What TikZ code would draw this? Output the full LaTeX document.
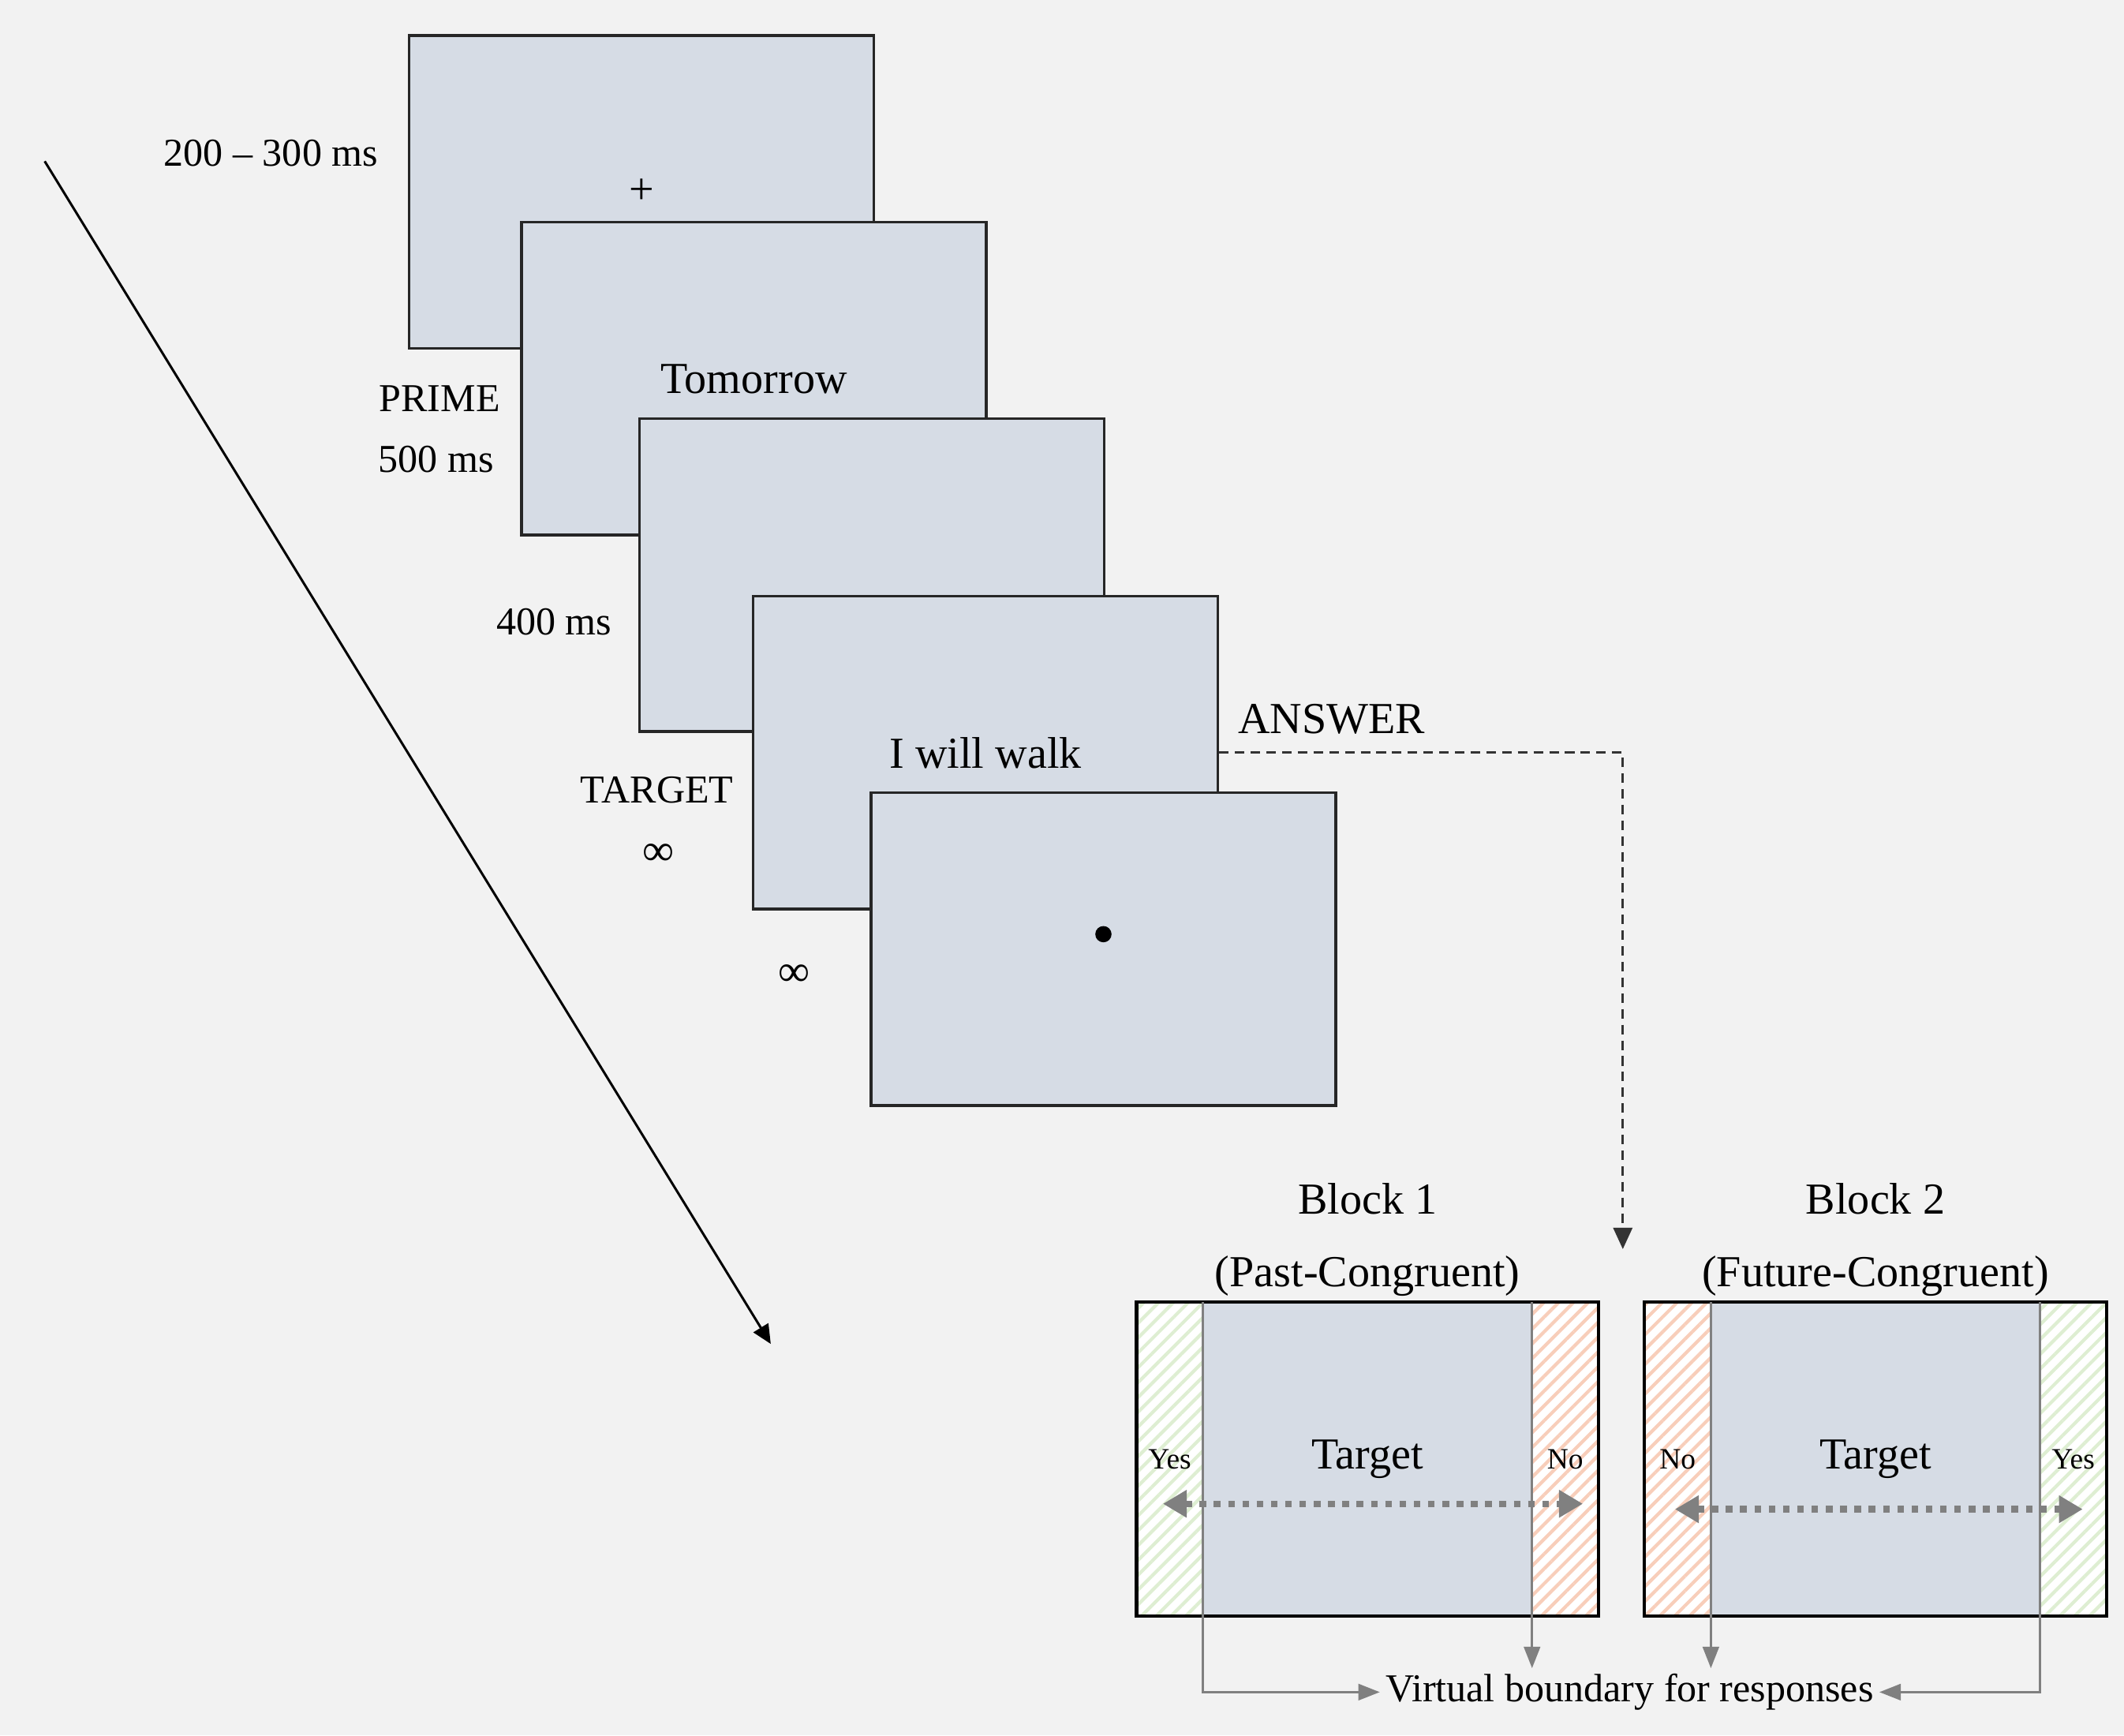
\documentclass[tikz,border=0pt]{standalone}
\usepackage{fontspec}
\setmainfont{Liberation Serif}
\usetikzlibrary{positioning,arrows.meta,patterns.meta,fit}

\definecolor{bgcol}{RGB}{242,242,242}
\definecolor{scrcol}{RGB}{214,220,229}
\definecolor{yescol}{RGB}{222,238,210}
\definecolor{nocol}{RGB}{248,206,186}
\definecolor{bndcol}{RGB}{128,128,128}

\newcommand\scrfnt{\fontsize{9.3}{11}\selectfont}
\newcommand\labfnt{\fontsize{8.3}{10}\selectfont}
\newcommand\sidefnt{\fontsize{6.2}{7.5}\selectfont}

\begin{document}
\begin{tikzpicture}
[screen/.style={shape=rectangle,draw=black!85,fill=scrcol,line width=0.6pt,
   minimum width=3.43cm,minimum height=2.31cm,inner sep=0pt,anchor=north west,font=\scrfnt},
 lab/.style={inner sep=1pt,font=\labfnt},
 big/.style={inner sep=1pt,font=\scrfnt},
 side/.style={shape=rectangle,minimum width=0.49cm,minimum height=2.32cm,inner sep=0pt,
   outer sep=0pt,font=\sidefnt,preaction={fill=white}},
 yesbox/.style={side,pattern={Lines[angle=45,distance=2.2pt,line width=0.7pt]},pattern color=yescol},
 nobox/.style={side,pattern={Lines[angle=45,distance=2.2pt,line width=0.7pt]},pattern color=nocol},
 midbox/.style={shape=rectangle,fill=scrcol,minimum width=2.43cm,minimum height=2.32cm,
   inner sep=0pt,outer sep=0pt,font=\scrfnt},
 panel/.style={draw=black,line width=0.7pt,inner sep=0pt,outer sep=0pt},
 bound/.style={draw=bndcol,line width=0.5pt,>={Triangle[length=4.5pt,width=3.4pt]}},
 choice/.style={bndcol,line width=1.4pt,dash pattern=on 1.4pt off 1.6pt,
   {Triangle[length=5pt,width=5.5pt]}-{Triangle[length=5pt,width=5.5pt]}},
 >={Triangle[length=4pt,width=3.6pt]}]
\useasboundingbox (0,0) rectangle (15.68,-12.81);
\fill[bgcol] (0,0) rectangle (15.68,-12.81);

% time line
\coordinate (tstart) at (0.33,-1.19);
\coordinate (tend) at (5.69,-9.92);
\draw[->,line width=0.5pt] (tstart) -- (tend);

% trial screens
\node[screen] (fix) at (3.01,-0.25) {+};
\node[screen] (prime) at (3.84,-1.63) {Tomorrow};
\node[screen] (blank) at (4.71,-3.08) {};
\node[screen] (target) at (5.55,-4.39) {I will walk};
\node[screen] (resp) at (6.42,-5.84) {};
\fill ([yshift=1.1mm]resp.center) circle (0.6mm);

\node[lab] (isi) at (2.00,-1.13) {200 – 300 ms};
\node[lab] (primelab) at (3.245,-2.94) {PRIME};
\node[lab] (primedur) at (3.22,-3.39) {500 ms};
\node[lab] (blankdur) at (4.09,-4.59) {400 ms};
\node[lab] (targetlab) at (4.85,-5.83) {TARGET};
\node[big] (targetdur) at (4.86,-6.31) {∞};
\node[big] (respdur) at (5.86,-7.20) {∞};
\node[big] (answer) at (9.83,-5.31) {ANSWER};

\coordinate (blockin) at (11.98,-9.22);
\draw[->,black!80,line width=0.5pt,dash pattern=on 2pt off 1.3pt,
  >={Triangle[length=4.5pt,width=4pt]}] (target.east) -| (blockin);

% block 1
\node[yesbox,anchor=north west] (yes1) at (8.39,-9.61) {Yes};
\node[midbox,right=0pt of yes1] (mid1) {Target};
\node[nobox,right=0pt of mid1] (no1) {No};
\node[panel,fit=(yes1)(no1)] (block1) {};
\node[big,above=0cm of block1] (cond1) {(Past-Congruent)};
\node[big,above=0.22cm of cond1] (title1) {Block 1};

% block 2
\node[nobox,anchor=north west] (no2) at (12.14,-9.61) {No};
\node[midbox,right=0pt of no2] (mid2) {Target};
\node[yesbox,right=0pt of mid2] (yes2) {Yes};
\node[panel,fit=(no2)(yes2)] (block2) {};
\node[big,above=0cm of block2] (cond2) {(Future-Congruent)};
\node[big,above=0.22cm of cond2] (title2) {Block 2};

\draw[choice] ([xshift=-0.5mm,yshift=-3.3mm]yes1.center) -- ([xshift=1.3mm,yshift=-3.3mm]no1.center);
\draw[choice] ([xshift=-0.2mm,yshift=-3.7mm]no2.center) -- ([xshift=0.7mm,yshift=-3.7mm]yes2.center);

% response boundaries
\node[lab] (vb) at (12.03,-12.49) {Virtual boundary for responses};
\draw[bound,->] (yes1.north east) |- (vb.west);
\draw[bound,->] (no1.north west) -- (no1.north west |- vb.north);
\draw[bound,->] (no2.north east) -- (no2.north east |- vb.north);
\draw[bound,->] (yes2.north west) |- (vb.east);
\end{tikzpicture}
\end{document}
